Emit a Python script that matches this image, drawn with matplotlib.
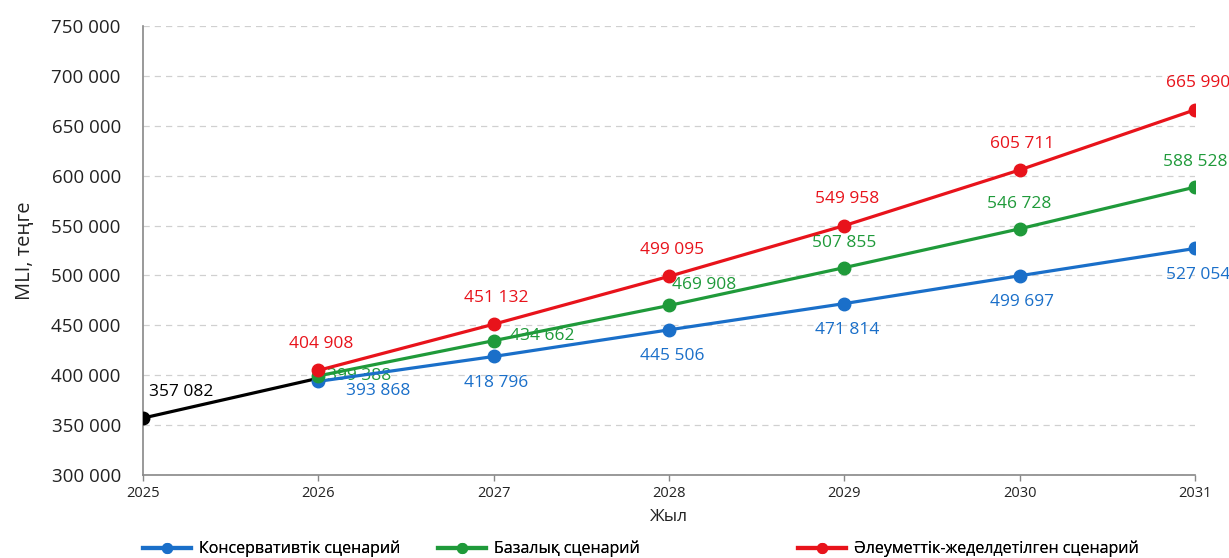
import matplotlib
matplotlib.use("Agg")
import matplotlib.pyplot as plt
from matplotlib.ticker import FuncFormatter
from matplotlib.lines import Line2D

plt.rcParams['font.family'] = ['Open Sans', 'DejaVu Sans']

years = [2025, 2026, 2027, 2028, 2029, 2030, 2031]
hist_years = [2025, 2026]
hist_vals = [357082, 397000]
scen_years = [2026, 2027, 2028, 2029, 2030, 2031]
conservative = [393868, 418796, 445506, 471814, 499697, 527054]
base = [399388, 434662, 469908, 507855, 546728, 588528]
social = [404908, 451132, 499095, 549958, 605711, 665990]
labels = ["Консервативтік сценарий", "Базалық сценарий", "Әлеуметтік-жеделдетілген сценарий"]

c_blue = "#1a6fc9"
c_green = "#1f9a3a"
c_red = "#e8131b"

fig = plt.figure(figsize=(12.29, 5.58), dpi=100)
ax = fig.add_axes([0.1164, 0.1487, 0.8559, 0.8047])

def fmt(v):
    return f"{int(round(v)):,}".replace(",", " ")

ax.plot(hist_years, hist_vals, color="black", lw=2.3, zorder=3)
ax.plot(hist_years[:1], hist_vals[:1], 'o', color="black", ms=9, zorder=4)
l1, = ax.plot(scen_years, conservative, '-o', color=c_blue, lw=2.3, ms=9, zorder=4)
l2, = ax.plot(scen_years, base, '-o', color=c_green, lw=2.3, ms=9, zorder=4)
l3, = ax.plot(scen_years, social, '-o', color=c_red, lw=2.3, ms=9, zorder=4)

fs = 12.5
ax.annotate(fmt(hist_vals[0]), (hist_years[0], hist_vals[0]), xytext=(4, 19),
            textcoords="offset points", ha="left", va="center", fontsize=fs, color="black")
for i, (x, v) in enumerate(zip(scen_years, social)):
    ax.annotate(fmt(v), (x, v), xytext=(2, 19), textcoords="offset points",
                ha="center", va="center", fontsize=fs, color=c_red)
for i, (x, v) in enumerate(zip(scen_years, base)):
    if i == 0:
        off, ha = (6, 0), "left"
    elif i == 1:
        off, ha = (12, 3), "left"
    elif i == 2:
        off, ha = (2, 15), "left"
    else:
        off, ha = (0, 18), "center"
    ax.annotate(fmt(v), (x, v), xytext=off, textcoords="offset points",
                ha=ha, va="center", fontsize=fs, color=c_green)
for i, (x, v) in enumerate(zip(scen_years, conservative)):
    if i == 0:
        off, ha = (20, -7), "left"
    else:
        off, ha = (2, -19), "center"
    ax.annotate(fmt(v), (x, v), xytext=off, textcoords="offset points",
                ha=ha, va="center", fontsize=fs, color=c_blue)

ax.set_xlim(2025, 2031)
ax.set_ylim(300000, 750000)
ax.set_xticks(years)
ax.set_yticks(range(300000, 750001, 50000))
ax.yaxis.set_major_formatter(FuncFormatter(lambda v, p: fmt(v)))
ax.tick_params(axis='y', length=0, labelsize=13.5, pad=16, colors="#222222")
ax.tick_params(axis='x', length=4, width=1, color="#888888", labelsize=10.5, pad=4, labelcolor="#222222")
ax.grid(axis='y', linestyle=(0, (5, 4)), color="#d0d0d0", lw=0.9)
ax.set_axisbelow(True)
for s in ["top", "right"]:
    ax.spines[s].set_visible(False)
for s in ["left", "bottom"]:
    ax.spines[s].set_color("#888888")
    ax.spines[s].set_linewidth(1.2)

ax.set_xlabel("Жыл", fontsize=12.5, labelpad=6, color="#222222")
ax.set_ylabel("MLI, теңге", fontsize=14.5, labelpad=12, color="#222222")

handles = [Line2D([], [], color=c, lw=3, marker='o', ms=7) for c in (c_blue, c_green, c_red)]
xs = [143, 438, 798]
for h, lab, xp in zip(handles, labels, xs):
    lg = fig.legend([h], [lab], loc="center left", bbox_to_anchor=(xp / 1229, 9 / 558),
                    frameon=False, fontsize=11.5, handlelength=3.0, handletextpad=0.5,
                    borderpad=0, borderaxespad=0)
    fig.add_artist(lg)

fig.savefig("out.png", dpi=100, facecolor="white")
